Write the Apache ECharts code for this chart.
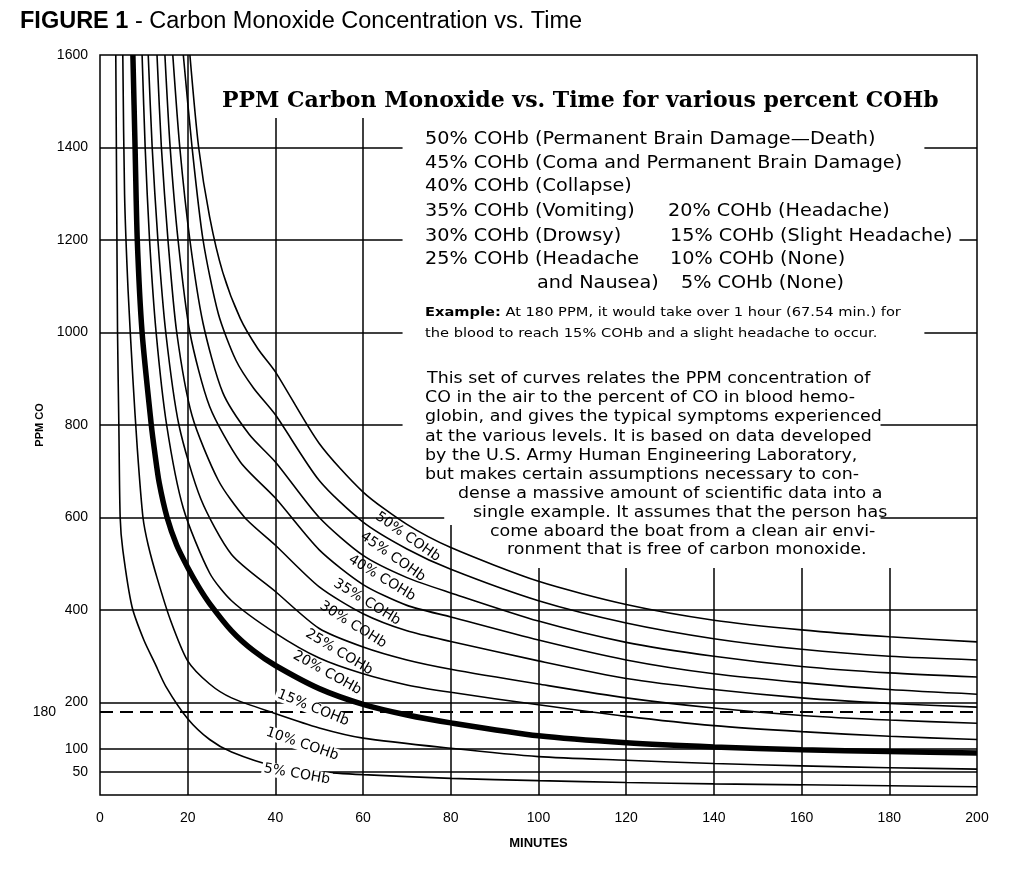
<!DOCTYPE html>
<html><head><meta charset="utf-8">
<script src="https://cdn.jsdelivr.net/npm/echarts@6/dist/echarts.min.js"></script>
<style>html,body{margin:0;padding:0;background:#fff}#c{width:1025px;height:869px}</style>
</head><body><div id="c"></div><script>
// ---- data (minutes, PPM CO) ----
const xTicks = [0, 20, 40, 60, 80, 100, 120, 140, 160, 180, 200];
const yTickLabels = [50, 100, 200, 400, 600, 800, 1000, 1200, 1400, 1600];
const curveNames = ['5% COHb','10% COHb','15% COHb','20% COHb','25% COHb','30% COHb','35% COHb','40% COHb','45% COHb','50% COHb'];

const c05 = [[3.6,1600],[3.8,1300],[4.0,1000],[4.3,800],[4.6,600],[5.2,530],[7.3,407],[10,335],[12.5,285],[15,235],[20,165],[25,120],[30,93],[40,62],[50,50],[60,44],[80,36],[100,31],[120,27],[140,24],[160,22],[180,20],[200,18]];
const c10 = [[5.2,1600],[5.6,1300],[6.4,1092],[7.5,900],[8.5,750],[9.8,600],[11,540],[13,470],[16,380],[20,290],[25,240],[30,210],[40,176],[50,145],[60,123],[80,101],[100,83],[120,75],[140,68],[160,63],[180,59],[200,56]];
const c15 = [[7.5,1600],[8.0,1400],[8.5,1200],[9.6,1000],[11.7,800],[12.5,740],[13.5,675],[15.3,600],[17.5,540],[20,492],[22.5,450],[25,414],[30,355],[35,312],[40,280],[50,230],[60,196],[70,173],[80,156],[100,128],[120,113],[140,104],[160,98],[180,94],[200,91]];
const c20 = [[9.6,1600],[10.3,1400],[11.3,1200],[12.8,1000],[15.2,800],[19,620],[25,480],[30,420],[40,350],[50,296],[60,262],[70,238],[80,222],[100,195],[120,170],[140,150],[160,137],[180,127],[200,120]];
const c25 = [[11,1600],[11.9,1400],[13.2,1200],[15,1000],[18,800],[23,640],[30,520],[40,440],[50,360],[60,320],[70,292],[80,272],[100,240],[120,210],[140,188],[160,172],[180,162],[200,155]];
const c30 = [[13,1600],[14,1400],[15.5,1200],[17.5,1000],[21,820],[27,680],[33,600],[40,540],[50,450],[60,392],[70,355],[80,332],[100,290],[120,252],[140,228],[160,210],[180,198],[200,190]];
const c35 = [[14.8,1600],[16,1400],[17.8,1200],[20.5,1000],[25,840],[32,720],[40,642],[50,530],[60,455],[70,410],[80,385],[100,335],[120,292],[140,262],[160,243],[180,228],[200,218]];
const c40 = [[16.6,1600],[18.2,1400],[20.5,1200],[23.5,1020],[28,870],[34,780],[40,720],[50,600],[60,518],[70,470],[80,437],[100,376],[120,330],[140,300],[160,278],[180,264],[200,255]];
const c45 = [[19,1600],[21,1400],[23.5,1200],[27,1040],[31,940],[35,880],[40,822],[50,680],[60,590],[70,532],[80,488],[100,420],[120,372],[140,338],[160,315],[180,300],[200,292]];
const c50 = [[20.5,1600],[22.5,1400],[25,1250],[28,1130],[32,1030],[36,965],[40,915],[50,760],[60,655],[70,585],[80,535],[100,462],[120,412],[140,378],[160,357],[180,342],[200,331]];
const curves = [c05, c10, c15, c20, c25, c30, c35, c40, c45, c50];

// where each curve's label sits (minutes, PPM)
const labelAt = [[44.9,45],[46.1,110],[48.6,188],[51.8,264],[54.5,309],[57.7,368],[60.9,417],[64.3,469],[66.8,515],[70.2,558]];
const labelAngle = [10, 19, 22, 29, 31, 32, 31.5, 31.5, 35, 35];

const example = 180; // PPM reference line

// grid line segments (minutes / PPM) — interrupted by the text block
const hSegs = [[1400,0,69],[1400,188,200],[1200,0,69],[1200,196,200],[1000,0,69],[1000,188,200],[800,0,69],[800,178,200],[600,0,78.5],[600,178,200],[400,0,200],[200,0,200],[100,0,200],[50,0,200]];
const vSegs = [[20,0,1600],[40,0,1464],[60,0,1464],[80,0,584],[100,0,491],[120,0,491],[140,0,491],[160,0,491],[180,0,491]];

const gridLines = [];
hSegs.forEach(s => gridLines.push([{coord:[s[1], s[0]]},{coord:[s[2], s[0]]}]));
vSegs.forEach(s => gridLines.push([{coord:[s[0], s[1]]},{coord:[s[0], s[2]]}]));

const chart = echarts.init(document.getElementById('c'), null, {renderer:'canvas'});
const SANS = 'DejaVu Sans';
const series = [];
series.push({
  type:'line', data:[], silent:true, z:1,
  markLine:{silent:true, symbol:'none', animation:false,
    lineStyle:{color:'#000', width:1.5, type:'solid'}, label:{show:false},
    data: gridLines}
});
series.push({
  type:'line', data:[], silent:true, z:1,
  markLine:{silent:true, symbol:'none', animation:false,
    lineStyle:{color:'#000', width:2.2, type:[13,7]},
    label:{show:true, position:'start', formatter:String(example), color:'#000',
      fontFamily:'Liberation Sans', fontSize:14, distance:44},
    data:[[{coord:[0, example]},{coord:[200, example]}]]}
});
curves.forEach((c, i) => {
  series.push({
    type:'line', name: curveNames[i], data:c, showSymbol:false, silent:true,
    smooth:0.25, clip:true, z:3,
    lineStyle:{color:'#000', width: i === 2 ? 5.5 : 1.6},
    markPoint:{silent:true, symbol:'circle', symbolSize:0, animation:false,
      data:[{coord: labelAt[i], value: curveNames[i],
        label:{show:true, position:'inside', formatter: curveNames[i], rotate: -labelAngle[i],
          color:'#000', fontFamily:SANS, fontSize:14,
          backgroundColor: i < 3 ? '#fff' : 'transparent', padding:[0,2]}}]}
  });
});

function txt(x, y, text, font, sx) {
  return {type:'text', x:x, y:y, z:10, silent:true, scaleX: sx || 1,
    style:{text:text, font:font, fill:'#000', textAlign:'left', textVerticalAlign:'middle', verticalAlign:'middle'}};
}
const legendFont = '17px ' + SANS, LS = 1.13;
const paraFont = '16px ' + SANS, PS = 1.09;
const exFont = '13px ' + SANS, ES = 1.125;
const graphics = [
  {type:'text', x:20, y:22, z:10, silent:true, style:{text:'{b|FIGURE 1} - Carbon Monoxide Concentration vs. Time',
    font:'23.5px Liberation Sans', fill:'#000', textVerticalAlign:'middle', verticalAlign:'middle',
    rich:{b:{font:'bold 23.5px Liberation Sans', fill:'#000'}}}},
  txt(222, 101, 'PPM Carbon Monoxide vs. Time for various percent COHb', 'bold 22px DejaVu Serif'),
  txt(425, 140, '50% COHb (Permanent Brain Damage\u2014Death)', legendFont, LS),
  txt(425, 164, '45% COHb (Coma and Permanent Brain Damage)', legendFont, LS),
  txt(425, 187, '40% COHb (Collapse)', legendFont, LS),
  txt(425, 212, '35% COHb (Vomiting)', legendFont, LS),
  txt(425, 237, '30% COHb (Drowsy)', legendFont, LS),
  txt(425, 260, '25% COHb (Headache', legendFont, LS),
  txt(537, 284, 'and Nausea)', legendFont, LS),
  txt(668, 212, '20% COHb (Headache)', legendFont, LS),
  txt(670, 237, '15% COHb (Slight Headache)', legendFont, LS),
  txt(670, 260, '10% COHb (None)', legendFont, LS),
  txt(681, 284, '5% COHb (None)', legendFont, LS),
  {type:'text', x:425, y:313, z:10, silent:true, scaleX:ES, style:{text:'{b|Example:} At 180 PPM, it would take over 1 hour (67.54 min.) for',
    font:exFont, fill:'#000', textVerticalAlign:'middle', verticalAlign:'middle',
    rich:{b:{font:'bold ' + exFont, fill:'#000'}}}},
  txt(425, 334, 'the blood to reach 15% COHb and a slight headache to occur.', exFont, ES),
  txt(427, 379, 'This set of curves relates the PPM concentration of', paraFont, PS),
  txt(425, 398, 'CO in the air to the percent of CO in blood hemo-', paraFont, PS),
  txt(425, 417, 'globin, and gives the typical symptoms experienced', paraFont, PS),
  txt(425, 437, 'at the various levels. It is based on data developed', paraFont, PS),
  txt(425, 456, 'by the U.S. Army Human Engineering Laboratory,', paraFont, PS),
  txt(425, 475, 'but makes certain assumptions necessary to con-', paraFont, PS),
  txt(458, 494, 'dense a massive amount of scientific data into a', paraFont, PS),
  txt(473, 513, 'single example. It assumes that the person has', paraFont, PS),
  txt(490, 532, 'come aboard the boat from a clean air envi-', paraFont, PS),
  txt(507, 550, 'ronment that is free of carbon monoxide.', paraFont, PS)
];

chart.setOption({
  animation:false,
  backgroundColor:'#fff',
  grid:{left:100, right:48, top:55, bottom:74, show:true, borderColor:'#000', borderWidth:1.5, backgroundColor:'transparent'},
  xAxis:{type:'value', min:0, max:200, interval:20,
    name:'MINUTES', nameLocation:'middle', nameGap:42,
    nameTextStyle:{fontFamily:'Liberation Sans', fontWeight:'bold', fontSize:13, color:'#000'},
    axisLine:{show:false}, axisTick:{show:false}, splitLine:{show:false},
    axisLabel:{color:'#000', fontFamily:'Liberation Sans', fontSize:14, margin:16}},
  yAxis:{type:'value', min:0, max:1600, interval:50,
    name:'PPM CO', nameLocation:'middle', nameGap:52, nameRotate:90,
    nameTextStyle:{fontFamily:'Liberation Sans', fontWeight:'bold', fontSize:11, color:'#000'},
    axisLine:{show:false}, axisTick:{show:false}, splitLine:{show:false},
    axisLabel:{color:'#000', fontFamily:'Liberation Sans', fontSize:14, margin:12, interval:0,
      formatter: v => yTickLabels.indexOf(v) >= 0 ? String(v) : ''}},
  series: series,
  graphic: graphics
});
</script></body></html>
